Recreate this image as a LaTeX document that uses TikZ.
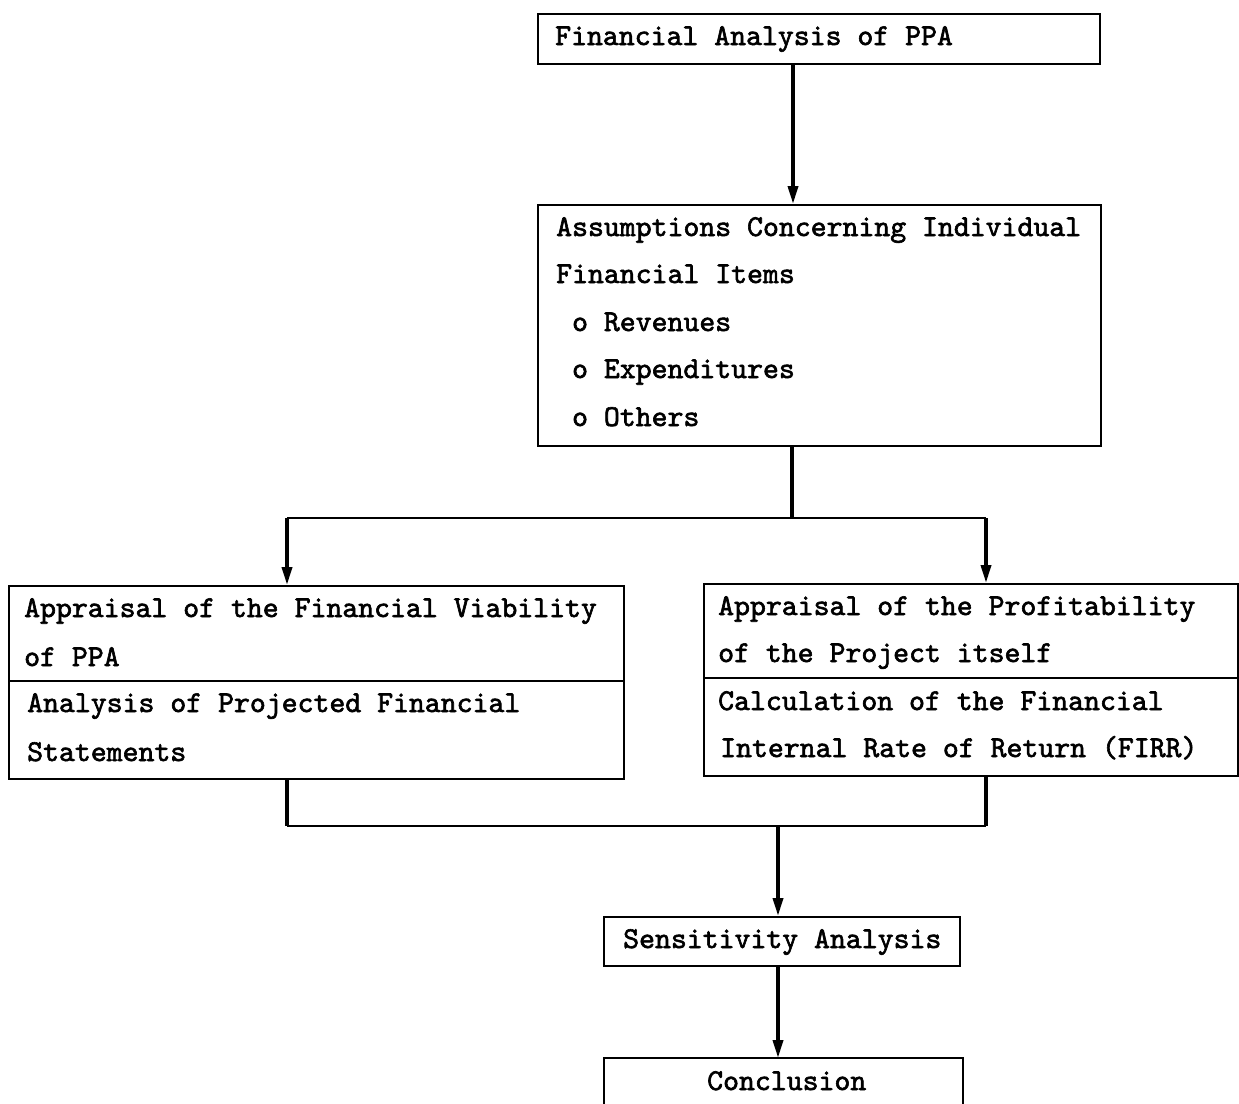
\documentclass[tikz,border=0pt]{standalone}
\usepackage{fontspec}
\newfontfamily\typefont{lmmono10-regular}[Extension=.otf,FakeBold=2]
\usetikzlibrary{arrows.meta,calc}
\begin{document}
\begin{tikzpicture}[x=1pt,y=-1pt,
  box/.style={draw,line width=2pt,rectangle,inner sep=0pt,anchor=north west},
  txt/.style={anchor=base west,inner sep=0pt,font=\typefont\fontsize{30.3pt}{34pt}\selectfont},
  hline/.style={line width=2pt},
  vline/.style={line width=3.5pt},
  arr/.style={line width=3.5pt,-{Triangle[length=18pt,width=10pt]}},
  divider/.style={line width=2pt}]
\useasboundingbox (0,0) rectangle (1239,1103);
% boxes
\node[box,minimum width=562pt,minimum height=50pt] (b1) at (537,13) {};
\node[box,minimum width=563pt,minimum height=241pt] (b2) at (537,204) {};
\node[box,minimum width=615pt,minimum height=193pt] (b3) at (8,585) {};
\node[box,minimum width=534pt,minimum height=192pt] (b4) at (703,583) {};
\node[box,minimum width=356pt,minimum height=49pt] (sens) at (603,916) {};
\node[box,draw=none,minimum width=357pt,minimum height=45pt] (concl) at (604,1058) {};
\draw[line width=2pt] (concl.south west) -- (concl.north west) -- (concl.north east) -- (concl.south east);
% dividers
\draw[divider] (b3.west |- 0,681) -- (b3.east |- 0,681);
\draw[divider] (b4.west |- 0,678) -- (b4.east |- 0,678);
% texts
\node[txt] (t1) at (555,45) {Financial Analysis of PPA};
\node[txt] (t2a) at (556,236) {Assumptions Concerning Individual};
\node[txt] (t2b) at (556,283) {Financial Items};
\node[txt] (t2c) at (556,331) {\ o Revenues};
\node[txt] (t2d) at (556,378) {\ o Expenditures};
\node[txt] (t2e) at (556,426) {\ o Others};
\node[txt] (t3a) at (24,617) {Appraisal of the Financial Viability};
\node[txt] (t3b) at (24,666) {of PPA};
\node[txt] (t3c) at (27,712) {Analysis of Projected Financial};
\node[txt] (t3d) at (27,761) {Statements};
\node[txt] (t4a) at (718,615) {Appraisal of the Profitability};
\node[txt] (t4b) at (718,662) {of the Project itself};
\node[txt] (t4c) at (718,710) {Calculation of the Financial};
\node[txt] (t4d) at (720,757) {Internal Rate of Return (FIRR)};
\node[txt] (t5) at (623,948) {Sensitivity Analysis};
\node[txt] (t6) at (707,1090) {Conclusion};
% connector coordinates
\coordinate (a1) at (793,0);
\coordinate (jt) at (792,518);
\coordinate (lt) at (287,518);
\coordinate (rt) at (986,518);
\coordinate (lb) at (287,826);
\coordinate (rb) at (986,826);
\coordinate (jb) at (778,826);
% connectors
\draw[arr] (b1.south -| a1) -- (b2.north -| a1);
\draw[vline] (b2.south -| jt) -- (jt);
\draw[hline] (lt) -- (rt);
\draw[arr] (lt) -- (b3.north -| lt);
\draw[arr] (rt) -- (b4.north -| rt);
\draw[vline] (b3.south -| lb) -- (lb);
\draw[vline] (b4.south -| rb) -- (rb);
\draw[hline] (lb) -- (rb);
\draw[arr] (jb) -- (sens.north -| jb);
\draw[arr] (sens.south -| jb) -- (concl.north -| jb);
\end{tikzpicture}
\end{document}
